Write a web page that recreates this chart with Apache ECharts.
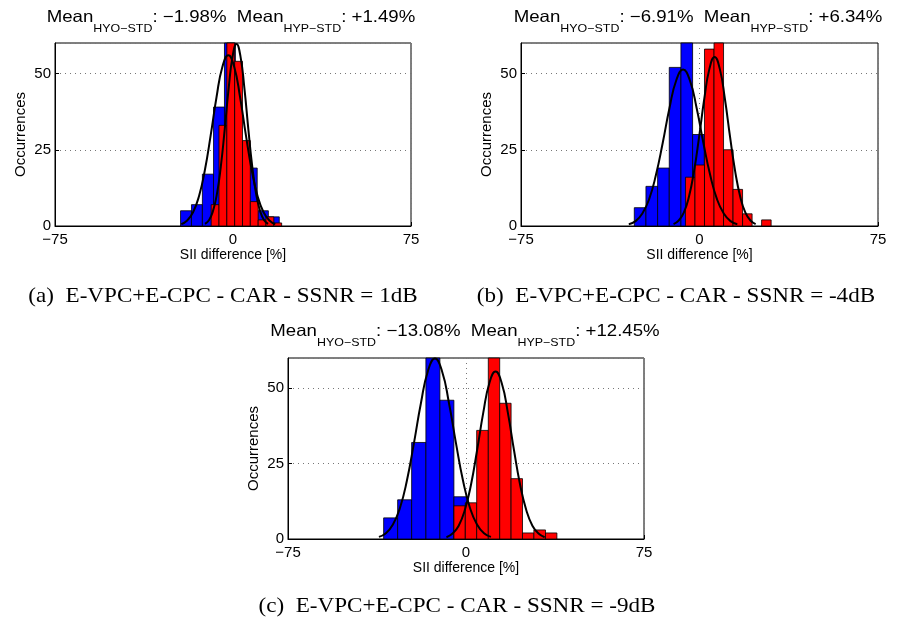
<!DOCTYPE html>
<html>
<head>
<meta charset="utf-8">
<script src="https://cdn.jsdelivr.net/npm/echarts@6/dist/echarts.min.js"></script>
<style>
  html, body { margin: 0; padding: 0; background: #fff; }
  #chart { width: 904px; height: 621px; }
</style>
</head>
<body>
<div id="chart"></div>
<script>
// ---- SII difference histograms (HYO-STD in blue, HYP-STD in red) ----
// SSNR = 1 dB
const hyoEdges1  = [-22.1, -17.5, -12.9, -8.2, -3.6, 1.0, 5.6, 10.2, 14.9, 19.5];
const hyoCounts1 = [5, 7, 17, 39, 85, 20, 19, 5, 3];
const hypEdges1  = [-9.2, -5.9, -2.6, 0.7, 4.0, 7.3, 10.6, 13.9, 17.2, 20.5];
const hypCounts1 = [7, 33, 64, 54, 28, 8, 2, 3, 1];
// SSNR = -4 dB
const hyoEdges4  = [-27.4, -22.5, -17.6, -12.7, -7.8, -2.9, 2.0, 6.9];
const hyoCounts4 = [6, 13, 19, 52, 62, 30, 18];
const hypEdges4  = [-5.9, -1.9, 2.1, 6.1, 10.1, 14.1, 18.1, 22.1, 26.1, 30.1];
const hypCounts4 = [16, 20, 58, 63, 25, 12, 4, 0, 2];
// SSNR = -9 dB
const hyoEdges9  = [-34.7, -28.8, -22.9, -16.9, -11.0, -5.1, 0.8];
const hyoCounts9 = [7, 13, 32, 88, 46, 14];
const hypEdges9  = [-5.1, -0.3, 4.5, 9.4, 14.2, 19.0, 23.8, 28.6, 33.5, 38.3];
const hypCounts9 = [11, 12, 36, 69, 45, 20, 2, 3, 2];

// ---- fitted normal curves (x, occurrences) ----
const hyoFitX1 = [-21.78, -19.31, -16.83, -14.36, -11.88, -9.41, -6.93, -4.46, -1.98, 0.50, 2.97, 5.45, 7.92, 10.40, 12.87, 15.35, 17.82];
const hyoFitY1 = [0.6, 1.8, 4.5, 9.7, 18.2, 29.7, 42.3, 52.2, 56.0, 52.2, 42.3, 29.7, 18.2, 9.7, 4.5, 1.8, 0.6];
const hypFitX1 = [-11.80, -10.14, -8.48, -6.82, -5.15, -3.49, -1.83, -0.17, 1.49, 3.15, 4.81, 6.47, 8.13, 9.80, 11.46, 13.12, 14.78];
const hypFitY1 = [0.7, 1.9, 4.8, 10.3, 19.4, 31.7, 45.1, 55.6, 59.7, 55.6, 45.1, 31.7, 19.4, 10.3, 4.8, 1.9, 0.7];

const hyoFitX4 = [-29.71, -26.86, -24.01, -21.16, -18.31, -15.46, -12.61, -9.76, -6.91, -4.06, -1.21, 1.64, 4.49, 7.34, 10.19, 13.04, 15.89];
const hyoFitY4 = [0.6, 1.6, 4.1, 8.8, 16.7, 27.2, 38.7, 47.8, 51.3, 47.8, 38.7, 27.2, 16.7, 8.8, 4.1, 1.6, 0.6];
const hypFitX4 = [-10.91, -8.75, -6.60, -4.44, -2.29, -0.13, 2.03, 4.18, 6.34, 8.50, 10.65, 12.81, 14.97, 17.12, 19.28, 21.43, 23.59];
const hypFitY4 = [0.6, 1.8, 4.4, 9.6, 18.0, 29.4, 41.8, 51.6, 55.4, 51.6, 41.8, 29.4, 18.0, 9.6, 4.4, 1.8, 0.6];

const hyoFitX9 = [-36.69, -33.74, -30.79, -27.83, -24.89, -21.93, -18.98, -16.03, -13.08, -10.13, -7.18, -4.23, -1.27, 1.68, 4.63, 7.58, 10.53];
const hyoFitY9 = [0.7, 1.9, 4.8, 10.3, 19.4, 31.8, 45.1, 55.7, 59.8, 55.7, 45.1, 31.8, 19.4, 10.3, 4.8, 1.9, 0.7];
const hypFitX9 = [-8.25, -5.66, -3.08, -0.49, 2.10, 4.69, 7.28, 9.86, 12.45, 15.04, 17.63, 20.21, 22.80, 25.39, 27.98, 30.56, 33.15];
const hypFitY9 = [0.6, 1.8, 4.4, 9.6, 18.0, 29.5, 41.9, 51.7, 55.5, 51.7, 41.9, 29.5, 18.0, 9.6, 4.4, 1.8, 0.6];

// ---- labels ----
const hyoMeans = [-1.98, -6.91, -13.08];
const hypMeans = [1.49, 6.34, 12.45];
const panelTags = ['(a)', '(b)', '(c)'];
const ssnrValues = ['1', '-4', '-9'];
const xTicks = [-75, 0, 75];
const yTicks = [0, 25, 50];
const yTop = 60;

const panels = [
  { hyoE: hyoEdges1, hyoN: hyoCounts1, hypE: hypEdges1, hypN: hypCounts1,
    hyoFX: hyoFitX1, hyoFY: hyoFitY1, hypFX: hypFitX1, hypFY: hypFitY1 },
  { hyoE: hyoEdges4, hyoN: hyoCounts4, hypE: hypEdges4, hypN: hypCounts4,
    hyoFX: hyoFitX4, hyoFY: hyoFitY4, hypFX: hypFitX4, hypFY: hypFitY4 },
  { hyoE: hyoEdges9, hyoN: hyoCounts9, hypE: hypEdges9, hypN: hypCounts9,
    hyoFX: hyoFitX9, hyoFY: hyoFitY9, hypFX: hypFitX9, hypFY: hypFitY9 }
];

// layout of the three axes boxes
const grids = [
  { left: 55,  top: 43,  width: 356, height: 183 },
  { left: 521, top: 43,  width: 357, height: 183 },
  { left: 288, top: 358, width: 356, height: 181 }
];
const titlePos = [[231, 0], [698, 0], [465, 314]];
const captionPos = [[223, 296], [676, 296], [457, 606]];

const SANS = 'Liberation Sans, Arial, Helvetica, sans-serif';
const SERIF = 'Liberation Serif, Times New Roman, serif';
const MINUS = '\u2212';

function signed(v) {
  return (v < 0 ? MINUS : '+') + Math.abs(v).toFixed(2);
}

function binRows(edges, counts) {
  return counts.map((n, i) => [edges[i], edges[i + 1], n]);
}

function renderBin(color) {
  return function (params, api) {
    const n = api.value(2);
    if (!n) return null;
    const p0 = api.coord([api.value(0), n]);
    const p1 = api.coord([api.value(1), 0]);
    const cs = params.coordSys;
    const shape = echarts.graphic.clipRectByRect(
      { x: p0[0], y: p0[1], width: p1[0] - p0[0], height: p1[1] - p0[1] },
      { x: cs.x, y: cs.y, width: cs.width, height: cs.height }
    );
    if (!shape) return null;
    return {
      type: 'rect',
      shape: shape,
      style: { fill: color, stroke: '#000', lineWidth: 0.8 }
    };
  };
}

const option = {
  animation: false,
  backgroundColor: '#fff',
  grid: grids.map(g => Object.assign({
    show: true, borderColor: '#000', borderWidth: 1, backgroundColor: 'transparent'
  }, g)),
  xAxis: grids.map((g, i) => ({
    gridIndex: i, type: 'value',
    min: xTicks[0], max: xTicks[xTicks.length - 1], interval: xTicks[1] - xTicks[0],
    name: 'SII difference [%]', nameLocation: 'middle', nameGap: 20,
    nameTextStyle: { fontFamily: SANS, fontSize: 14, color: '#000' },
    axisLine: { show: true, onZero: false, lineStyle: { color: '#000', width: 1 } },
    axisTick: { show: true, inside: true, length: 4, lineStyle: { color: '#000' } },
    axisLabel: { fontFamily: SANS, fontSize: 15, color: '#000', margin: 6,
      formatter: v => String(v).replace('-', MINUS) },
    splitLine: { show: true, lineStyle: { color: '#777', type: [1, 4], width: 1 } }
  })),
  yAxis: grids.map((g, i) => ({
    gridIndex: i, type: 'value',
    min: yTicks[0], max: yTop, interval: yTicks[1] - yTicks[0],
    name: 'Occurrences', nameLocation: 'middle', nameGap: 27, nameRotate: 90,
    nameTextStyle: { fontFamily: SANS, fontSize: 15, color: '#000' },
    axisLine: { show: true, onZero: false, lineStyle: { color: '#000', width: 1 } },
    axisTick: { show: true, inside: true, length: 4, lineStyle: { color: '#000' } },
    axisLabel: { fontFamily: SANS, fontSize: 15, color: '#000', margin: 4, showMaxLabel: false },
    splitLine: { show: true, lineStyle: { color: '#777', type: [1, 4], width: 1 } }
  })),
  series: [],
  graphic: []
};

panels.forEach((p, i) => {
  option.series.push({
    type: 'custom', name: 'HYO-STD', xAxisIndex: i, yAxisIndex: i,
    renderItem: renderBin('#0000ff'), encode: { x: [0, 1], y: 2 },
    data: binRows(p.hyoE, p.hyoN), z: 2
  });
  option.series.push({
    type: 'custom', name: 'HYP-STD', xAxisIndex: i, yAxisIndex: i,
    renderItem: renderBin('#ff0000'), encode: { x: [0, 1], y: 2 },
    data: binRows(p.hypE, p.hypN), z: 3
  });
  [[p.hyoFX, p.hyoFY], [p.hypFX, p.hypFY]].forEach(([xs, ys]) => {
    option.series.push({
      type: 'line', xAxisIndex: i, yAxisIndex: i, smooth: true, symbol: 'none',
      clip: true, z: 4,
      lineStyle: { color: '#000', width: 2 },
      data: xs.map((x, k) => [x, ys[k]])
    });
  });

  // panel heading with subscripted group names
  option.graphic.push({
    type: 'text', x: titlePos[i][0], y: titlePos[i][1], scaleX: 1.13,
    style: {
      text: '{m|Mean}{s|HYO' + MINUS + 'STD}{m|: ' + signed(hyoMeans[i]) +
            '%  Mean}{s|HYP' + MINUS + 'STD}{m|: ' + signed(hypMeans[i]) + '%}',
      align: 'center', verticalAlign: 'top', fill: '#000',
      rich: {
        m: { fontFamily: SANS, fontSize: 16.5, lineHeight: 34, verticalAlign: 'middle', fill: '#000' },
        s: { fontFamily: SANS, fontSize: 11, lineHeight: 12, verticalAlign: 'bottom', fill: '#000' }
      }
    }
  });
  // sub-figure caption
  option.graphic.push({
    type: 'text', x: captionPos[i][0], y: captionPos[i][1], scaleX: 1.1,
    style: {
      text: panelTags[i] + '  E-VPC+E-CPC - CAR - SSNR = ' + ssnrValues[i] + 'dB',
      font: '21px ' + SERIF, fill: '#000', align: 'center', verticalAlign: 'middle'
    }
  });
});

const chart = echarts.init(document.getElementById('chart'), null, { renderer: 'canvas' });
chart.setOption(option);
</script>
</body>
</html>
